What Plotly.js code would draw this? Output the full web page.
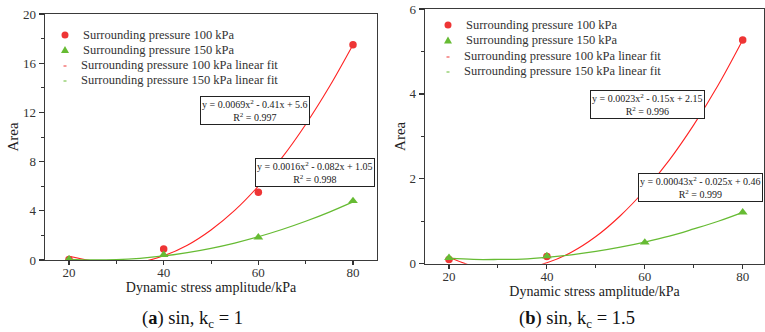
<!DOCTYPE html>
<html>
<head>
<meta charset="utf-8">
<script src="https://cdn.plot.ly/plotly-3.0.1.min.js"></script>
<style>
  html, body { margin: 0; padding: 0; background: #ffffff; }
  #chart { width: 765px; height: 332px; }
</style>
</head>
<body>
<div id="chart"></div>
<script>
// ---------- data ----------
const stressAmplitude = [20, 40, 60, 80];

// (a) sin, kc = 1
const areaA100 = [0.05, 0.9, 5.5, 17.5];
const areaA150 = [0.07, 0.42, 1.84, 4.8];

// (b) sin, kc = 1.5
const areaB100 = [0.1, 0.17, 1.75, 5.27];
const areaB150 = [0.14, 0.18, 0.5, 1.21];

// fitted curves
const fitX = [20, 25, 30, 35, 40, 45, 50, 55, 60, 65, 70, 75, 80];
const fitA100 = [0.3, -0.08, -0.3, -0.17, 0.34, 1.2, 2.44, 4.03, 6.0, 8.32, 11.02, 14.08, 17.5];
const fitA150 = [0.05, 0.0, 0.03, 0.14, 0.33, 0.6, 0.95, 1.38, 1.89, 2.48, 3.15, 3.9, 4.73];
const fitB100 = [0.15, -0.06, -0.15, -0.12, 0.02, 0.27, 0.64, 1.13, 1.73, 2.44, 3.27, 4.21, 5.27];
const fitB150 = [0.13, 0.1, 0.1, 0.11, 0.15, 0.21, 0.29, 0.39, 0.51, 0.65, 0.82, 1.0, 1.21];

const seriesNames = [
  'Surrounding pressure 100 kPa',
  'Surrounding pressure 150 kPa',
  'Surrounding pressure 100 kPa linear fit',
  'Surrounding pressure 150 kPa linear fit'
];
const xTitle = 'Dynamic stress amplitude/kPa';
const yTitle = 'Area';
const eqA100 = 'y = 0.0069x<sup>2</sup> - 0.41x + 5.6<br>R<sup>2</sup> = 0.997';
const eqA150 = 'y = 0.0016x<sup>2</sup> - 0.082x + 1.05<br>R<sup>2</sup> = 0.998';
const eqB100 = 'y = 0.0023x<sup>2</sup> - 0.15x + 2.15<br>R<sup>2</sup> = 0.996';
const eqB150 = 'y = 0.00043x<sup>2</sup> - 0.025x + 0.46<br>R<sup>2</sup> = 0.999';
const captionA = '(<b>a</b>) sin, k<sub>c</sub> = 1';
const captionB = '(<b>b</b>) sin, k<sub>c</sub> = 1.5';

// ---------- style ----------
const RED = '#EE3535';
const GREEN = '#66BB33';
const SERIF = "'Liberation Serif', 'Times New Roman', serif";
const W = 765, H = 332;
const px = p => p / W;
const py = p => 1 - p / H;

function panelTraces(xa, ya, pts100, pts150, f100, f150) {
  return [
    { x: fitX, y: f100, xaxis: xa, yaxis: ya, mode: 'lines', name: seriesNames[2],
      line: {color: '#FF2222', width: 1.1, shape: 'spline'}, showlegend: false, hoverinfo: 'skip' },
    { x: fitX, y: f150, xaxis: xa, yaxis: ya, mode: 'lines', name: seriesNames[3],
      line: {color: GREEN, width: 1.3, shape: 'spline'}, showlegend: false, hoverinfo: 'skip' },
    { x: stressAmplitude, y: pts100, xaxis: xa, yaxis: ya, mode: 'markers', name: seriesNames[0], showlegend: false,
      marker: {symbol: 'circle', size: 7.5, color: RED} },
    { x: stressAmplitude, y: pts150, xaxis: xa, yaxis: ya, mode: 'markers', name: seriesNames[1], showlegend: false,
      marker: {symbol: 'triangle-up', size: 8.5, color: GREEN} }
  ];
}

const data = [].concat(
  panelTraces('x', 'y', areaA100, areaA150, fitA100, fitA150),
  panelTraces('x2', 'y2', areaB100, areaB150, fitB100, fitB150)
);

function xAxis(domain, range, anchor) {
  return {
    domain: domain, range: range, anchor: anchor,
    tickvals: stressAmplitude, ticks: 'outside', ticklen: 4, tickwidth: 1.2, tickcolor: '#333',
    ticklabelstandoff: -4,
    minor: {dtick: 10, tick0: 0, ticks: 'outside', ticklen: 3, tickwidth: 1, tickcolor: '#333'},
    showline: true, mirror: true, linecolor: '#3a3a3a', linewidth: 1.4,
    showgrid: false, zeroline: false,
    tickfont: {family: SERIF, size: 13, color: '#333'},
    title: {text: xTitle, font: {family: SERIF, size: 14, color: '#222'}, standoff: 0}
  };
}
function yAxis(domain, range, dtick, minorDtick, anchor) {
  return {
    domain: domain, range: range, anchor: anchor, dtick: dtick, tick0: 0,
    ticks: 'outside', ticklen: 5, tickwidth: 1.2, tickcolor: '#333',
    minor: {dtick: minorDtick, tick0: 0, ticks: 'outside', ticklen: 3, tickwidth: 1, tickcolor: '#333'},
    showline: true, mirror: true, linecolor: '#3a3a3a', linewidth: 1.4,
    showgrid: false, zeroline: false,
    tickfont: {family: SERIF, size: 13, color: '#333'},
    title: {text: yTitle, font: {family: SERIF, size: 15, color: '#222'}, standoff: 0}
  };
}

function eqBox(text, cx, cy) {
  return {
    xref: 'paper', yref: 'paper', x: px(cx), y: py(cy), xanchor: 'center', yanchor: 'middle',
    text: text, showarrow: false, align: 'center',
    font: {family: SERIF, size: 10, color: '#222'},
    bgcolor: '#ffffff', bordercolor: '#222', borderwidth: 1, borderpad: 1
  };
}
function caption(text, cx, cy) {
  return {
    xref: 'paper', yref: 'paper', x: px(cx), y: py(cy), xanchor: 'center', yanchor: 'middle',
    text: text, showarrow: false, font: {family: SERIF, size: 18.5, color: '#111'}
  };
}

// ---------- hand-placed legends (compact row spacing like the reference) ----------
const legendColors = [RED, GREEN, RED, GREEN];
function legendParts(symX, textX, rows) {
  const anns = [], shapes = [];
  rows.forEach((ry, i) => {
    const tx = i < 2 ? textX : textX - 2;
    anns.push({
      xref: 'paper', yref: 'paper', x: px(tx), y: py(ry), xanchor: 'left', yanchor: 'middle',
      text: seriesNames[i], showarrow: false, font: {family: SERIF, size: 12.5, color: '#333'}
    });
    if (i === 0) {
      shapes.push({type: 'circle', xref: 'paper', yref: 'paper',
        x0: px(symX - 3.5), x1: px(symX + 3.5), y0: py(ry + 3.5), y1: py(ry - 3.5),
        fillcolor: legendColors[i], line: {width: 0}});
    } else if (i === 1) {
      shapes.push({type: 'path', xref: 'paper', yref: 'paper',
        path: 'M' + px(symX - 4) + ',' + py(ry + 3) + ' L' + px(symX + 4) + ',' + py(ry + 3) +
              ' L' + px(symX) + ',' + py(ry - 4) + ' Z',
        fillcolor: legendColors[i], line: {width: 0}});
    } else {
      shapes.push({type: 'line', xref: 'paper', yref: 'paper',
        x0: px(symX - 1.5), x1: px(symX + 1.5), y0: py(ry + 1), y1: py(ry + 1),
        line: {color: legendColors[i], width: 1}});
    }
  });
  return {anns, shapes};
}
const legA = legendParts(65, 81, [35, 50, 65, 80]);
const legB = legendParts(448, 464, [25, 40.5, 56, 71]);

const layout = {
  width: W, height: H,
  margin: {l: 0, r: 0, t: 0, b: 0},
  paper_bgcolor: '#ffffff', plot_bgcolor: '#ffffff',
  showlegend: false,
  xaxis: xAxis([px(45), px(377)], [14.93, 85.07], 'y'),
  yaxis: yAxis([py(260), py(14)], [0, 20], 4, 2, 'x'),
  xaxis2: xAxis([px(425), px(764)], [15.1, 84.35], 'y2'),
  yaxis2: yAxis([py(263.7), py(9)], [0, 6], 2, 1, 'x2'),
  shapes: legA.shapes.concat(legB.shapes),
  annotations: [
    eqBox(eqA100, 255.5, 111),
    eqBox(eqA150, 314.5, 172.5),
    eqBox(eqB100, 647, 105),
    eqBox(eqB150, 700, 187.5),
    caption(captionA, 192, 319),
    caption(captionB, 577, 319)
  ].concat(legA.anns, legB.anns)
};

Plotly.newPlot('chart', data, layout, {displayModeBar: false, staticPlot: true});
</script>
</body>
</html>
